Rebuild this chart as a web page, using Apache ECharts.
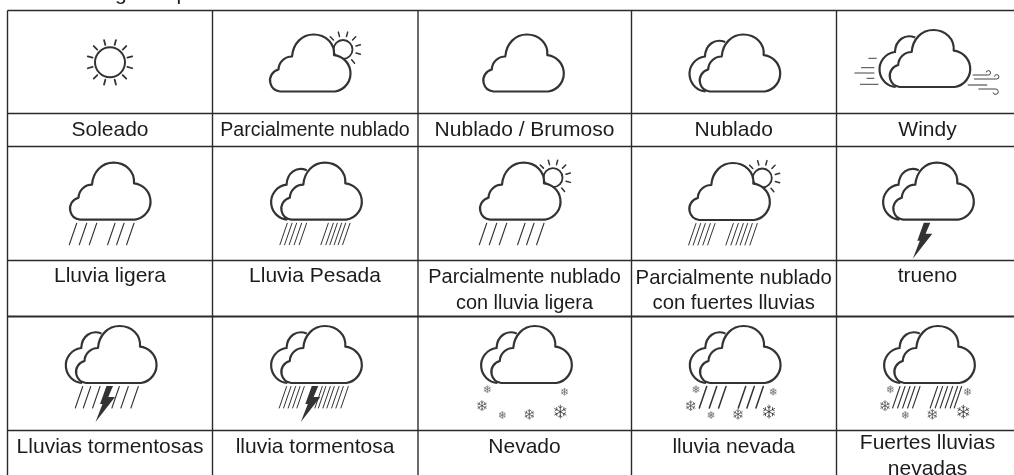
<!DOCTYPE html>
<html><head><meta charset="utf-8">
<style>html,body{margin:0;padding:0;background:#fff}#c{width:1014px;height:475px}</style>
<script src="https://cdn.jsdelivr.net/npm/echarts@6/dist/echarts.min.js"></script>
</head><body><div id="c"></div>
<script>
// ---- table content ----
const labels = [
  ['Soleado'], ['Parcialmente nublado'], ['Nublado / Brumoso'], ['Nublado'], ['Windy'],
  ['Lluvia ligera'], ['Lluvia Pesada'], ['Parcialmente nublado', 'con lluvia ligera'], ['Parcialmente nublado', 'con fuertes lluvias'], ['trueno'],
  ['Lluvias tormentosas'], ['lluvia tormentosa'], ['Nevado'], ['lluvia nevada'], ['Fuertes lluvias', 'nevadas']
];
const icons = [
  ['sun'], ['partSun', 'cloud'], ['cloud'], ['backCloud', 'cloud'], ['wind', 'backCloud', 'cloud'],
  ['rainLight', 'cloud'], ['rainHeavy', 'backCloud', 'cloud'], ['partSun', 'cloud', 'rainLight'], ['partSun', 'cloud', 'rainHeavy2'], ['bolt', 'backCloud', 'cloud'],
  ['stormLight', 'bolt', 'backCloud', 'cloud'], ['stormHeavy', 'bolt', 'backCloud', 'cloud'], ['snow', 'backCloud', 'cloud'], ['snow', 'sleetLight', 'backCloud', 'cloud'], ['snow', 'sleetHeavy', 'backCloud', 'cloud']
];
const clippedTitleGlyphs = ['g', 'p'];

// ---- layout (separate from the content) ----
const colEdges = [7.5, 212.5, 418, 631.5, 836.5];
const rowEdges = [10.5, 113.5, 146.5, 260.5, 316.5, 430.5];
const rowWidths = [1.4, 1.4, 1.4, 1.6, 2, 1.4];
const labelCenters = [110, 315, 524.5, 733.7, 927.5];
const labelRows = [[130.5], [276], [447]];
const twoLineRows = [[], [278, 303.5], [443.5, 469.5]];
const labelFont = [21, 19.6, 21, 21, 21, 21, 21, 19.9, 20.3, 21, 21, 21, 21, 21, 21];
const iconOrigin = [
  [110, 62.3], [271, 33.5], [484.3, 33.5], [700.7, 33.5], [890.7, 29],
  [71, 161.7], [282.3, 161.7], [481, 161.7], [690.3, 162], [894.3, 161.7],
  [77, 325], [282.3, 325], [492.3, 325], [701, 325], [895.3, 325]
];
const titleGlyphX = [115, 176.5];

const INK = '#333';
const CLOUD = 'M9 58L64 58A18.3 18.3 0 0 0 63 21.7C64 10 55 1 42.5 1C31 1 22 10 21 23A13.5 13.5 0 0 0 7.5 36A11.2 11.2 0 0 0 9 58Z';
const BACK = 'M24.5 8.5C14 4.5 5 11 4.2 23A17.6 17.6 0 0 0 5 58';
const BOLT = 'M29.5 61L36 61L31.3 72L38 72L18.5 97L25.5 79L23 79Z';
const WIND = ['M-22.3 29.3L-14 29.3', 'M-29.7 38.7L-16.3 38.7', 'M-36.3 44L-16.3 44', 'M-24 49.3L-16.3 49.3', 'M-30.7 55.3L-12.3 55.3',
  'M82 46L97.6 46A2.2 2.2 0 1 0 95.5 43.4', 'M83.3 50L106 50A2.2 2.2 0 1 0 103.8 47.6', 'M87.6 60L104.5 60A2.7 2.7 0 1 1 102.3 63.5'];
const RAIN = {
  rainLight:  { x: [5.7, 15.7, 25.7, 44, 53, 63], w: 1.1 },
  rainHeavy:  { x: [5, 9.7, 14.3, 19.3, 24.3, 46, 51, 55, 59.3, 63.3, 67.7], w: 1 },
  rainHeavy2: { x: [5.7, 10.3, 15, 20, 24.7, 43, 48, 53, 57.3, 62, 67], w: 1 },
  stormLight: { x: [5.7, 13.7, 23, 42.3, 51.3, 61.3], w: 1.1 },
  stormHeavy: { x: [4.3, 8.7, 13.3, 17.7, 22, 40, 43.5, 48, 52, 56.7, 61, 66], w: 1 },
  sleetLight: { x: [5.7, 15.7, 25, 44.7, 53.3, 62.3], w: 1.5 },
  sleetHeavy: { x: [4.7, 9.7, 14.7, 19.7, 24.7, 42.3, 47.3, 52.3, 57.3, 62.3, 66.3], w: 1.1 }
};
const FLAKES = [[-5, 64.3, 3.5], [-10.3, 80.7, 5], [10, 90, 3.5], [37, 89.3, 5], [72.2, 66.7, 3.5], [68, 86.7, 6.5]];

function line(shape, w, color) {
  return { type: 'line', shape, style: { stroke: color || INK, lineWidth: w, fill: null, lineCap: 'round' } };
}
function rays(cx, cy, r0, r1, angles, w) {
  return angles.map(a => {
    const t = a * Math.PI / 180;
    return line({ x1: cx + r0 * Math.cos(t), y1: cy + r0 * Math.sin(t), x2: cx + r1 * Math.cos(t), y2: cy + r1 * Math.sin(t) }, w);
  });
}
function flake(cx, cy, r) {
  const out = [];
  const w = r > 4 ? 0.8 : 0.6;
  const ink = r > 6 ? '#333' : (r > 4 ? '#555' : '#666');
  [30, 90, 150, 210, 270, 330].forEach(a => {
    const t = a * Math.PI / 180, c = Math.cos(t), s = Math.sin(t);
    out.push(line({ x1: cx, y1: cy, x2: cx + r * c, y2: cy + r * s }, w, ink));
    const m = r * 0.62, b = r * 0.32;
    [a - 60, a + 60].forEach(a2 => {
      const u = a2 * Math.PI / 180;
      out.push(line({ x1: cx + m * c, y1: cy + m * s, x2: cx + m * c + b * Math.cos(u), y2: cy + m * s + b * Math.sin(u) }, w, ink));
    });
  });
  return out;
}
function part(name) {
  const cloudStyle = { stroke: INK, lineWidth: 2.2, fill: '#fff', lineJoin: 'round' };
  if (name === 'sun') {
    return [{ type: 'circle', shape: { cx: 0, cy: 0, r: 15 }, style: { stroke: INK, lineWidth: 2, fill: null } }]
      .concat(rays(0, 0, 18, 23, [15, 45, 75, 105, 135, 165, 195, 225, 255, 285, 315, 345], 1.8));
  }
  if (name === 'partSun') {
    return [{ type: 'circle', shape: { cx: 72, cy: 16, r: 9.5 }, style: { stroke: INK, lineWidth: 1.8, fill: null } }]
      .concat(rays(72, 16, 13.5, 18, [225, 255, 285, 315, 345, 15, 50], 1.5));
  }
  if (name === 'cloud') return [{ type: 'path', shape: { pathData: CLOUD }, style: cloudStyle }];
  if (name === 'backCloud') return [{ type: 'path', shape: { pathData: BACK }, style: { stroke: INK, lineWidth: 2.2, fill: null } }];
  if (name === 'bolt') return [{ type: 'path', shape: { pathData: BOLT }, style: { fill: INK, stroke: null } }];
  if (name === 'wind') {
    return WIND.map(d => ({ type: 'path', shape: { pathData: d }, style: { stroke: '#444', lineWidth: 1, fill: null } }))
      .concat([line({ x1: 77.6, y1: 56, x2: 96, y2: 56 }, 1.4, '#777')]);
  }
  if (name === 'snow') return FLAKES.flatMap(f => flake(f[0], f[1], f[2]));
  const rain = RAIN[name];
  return rain.x.map(x => line({ x1: x, y1: 61.5, x2: x - 7.4, y2: 83 }, rain.w));
}

const lineData = [];
colEdges.forEach(x => lineData.push([x, rowEdges[0], x, 475, 1.4]));
rowEdges.forEach((y, i) => lineData.push([colEdges[0], y, 1014, y, rowWidths[i]]));

const cellData = labels.map((_, i) => [i % 5, Math.floor(i / 5), i]);

const chart = echarts.init(document.getElementById('c'), null, { renderer: 'canvas' });
chart.setOption({
  animation: false,
  backgroundColor: '#fff',
  grid: { left: 0, right: 0, top: 0, bottom: 0 },
  xAxis: { type: 'value', min: 0, max: 1014, show: false },
  yAxis: { type: 'value', min: 0, max: 475, inverse: true, show: false },
  series: [
    {
      type: 'custom', name: 'rules', coordinateSystem: 'cartesian2d', clip: false, silent: true,
      encode: { x: 0, y: 1 }, data: lineData,
      renderItem(params, api) {
        const a = api.coord([api.value(0), api.value(1)]);
        const b = api.coord([api.value(2), api.value(3)]);
        return { type: 'line', shape: { x1: a[0], y1: a[1], x2: b[0], y2: b[1] },
          style: { stroke: '#2b2b2b', lineWidth: api.value(4) } };
      }
    },
    {
      type: 'custom', name: 'icons', coordinateSystem: 'cartesian2d', clip: false, silent: true,
      encode: { x: 0, y: 1 }, data: iconOrigin.map((o, i) => [o[0], o[1], i]),
      renderItem(params, api) {
        const p = api.coord([api.value(0), api.value(1)]);
        const list = icons[api.value(2)];
        return { type: 'group', x: p[0], y: p[1], children: list.flatMap(part) };
      }
    },
    {
      type: 'custom', name: 'labels', coordinateSystem: 'cartesian2d', clip: false, silent: true,
      encode: { x: 0, y: 1 }, data: cellData,
      renderItem(params, api) {
        const i = api.value(2), col = api.value(0), row = api.value(1);
        const lines = labels[i];
        const ys = lines.length > 1 ? twoLineRows[row] : labelRows[row];
        return { type: 'group', children: lines.map((t, k) => {
          const p = api.coord([labelCenters[col], ys[k]]);
          return { type: 'text', x: p[0], y: p[1], style: { text: t, fill: '#1c1c1c', align: 'center', verticalAlign: 'middle',
            font: labelFont[i] + 'px "Liberation Sans", Arial, sans-serif' } };
        }) };
      }
    },
    {
      type: 'custom', name: 'title', coordinateSystem: 'cartesian2d', clip: false, silent: true,
      encode: { x: 0, y: 1 }, data: clippedTitleGlyphs.map((g, i) => [titleGlyphX[i], -6, i]),
      renderItem(params, api) {
        const p = api.coord([api.value(0), api.value(1)]);
        return { type: 'text', x: p[0], y: p[1], style: { text: clippedTitleGlyphs[api.value(2)], fill: '#1c1c1c',
          align: 'left', verticalAlign: 'middle', font: '21px "Liberation Sans", Arial, sans-serif' } };
      }
    }
  ]
});
</script></body></html>
